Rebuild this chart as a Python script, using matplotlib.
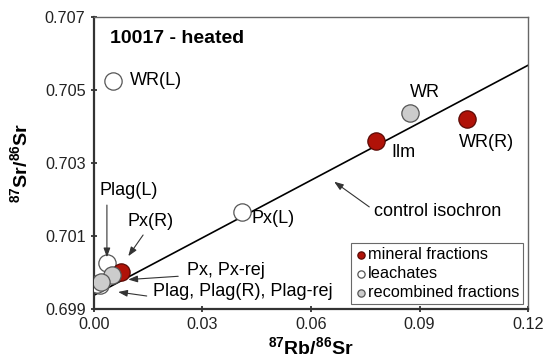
import matplotlib
matplotlib.use("Agg")
import matplotlib.pyplot as plt
import numpy as np

plt.rcParams['font.family'] = ['Liberation Sans', 'DejaVu Sans']
plt.rcParams['mathtext.fontset'] = 'custom'
plt.rcParams['mathtext.rm'] = 'Liberation Sans'
plt.rcParams['mathtext.bf'] = 'Liberation Sans:bold'

# data
mineral_x = [0.078, 0.1031, 0.0074]
mineral_y = [0.7036, 0.70421, 0.70002]
leach_x = [0.0053, 0.0408, 0.0035, 0.0018, 0.0010]
leach_y = [0.70525, 0.70167, 0.70026, 0.69966, 0.69970]
recomb_x = [0.0874, 0.0049, 0.0019]
recomb_y = [0.70437, 0.69993, 0.69975]
iso_x = [0.0, 0.12]
iso_y = [0.69938, 0.70568]
xticks = [0.00, 0.03, 0.06, 0.09, 0.12]
yticks = [0.699, 0.701, 0.703, 0.705, 0.707]

fig = plt.figure(figsize=(5.49, 3.62), dpi=100)
ax = fig.add_axes([0.171, 0.146, 0.791, 0.807])

ax.plot(iso_x, iso_y, color='black', lw=1.2, zorder=2)
S = 155
ax.scatter(leach_x, leach_y, s=S, facecolor='white', edgecolor='#555555', lw=0.9, zorder=3, label='leachates')
ax.scatter(recomb_x, recomb_y, s=S, facecolor='#cccccc', edgecolor='#555555', lw=0.9, zorder=4, label='recombined fractions')
ax.scatter(mineral_x, mineral_y, s=S, facecolor='#b01208', edgecolor='#5a0a05', lw=0.9, zorder=3.5, label='mineral fractions')

ax.set_xlim(0, 0.12)
ax.set_ylim(0.699, 0.707)
ax.set_xticks(xticks)
ax.set_xticklabels(['%.2f' % v for v in xticks])
ax.set_yticks(yticks)
ax.set_yticklabels(['%.3f' % v for v in yticks])
ax.tick_params(direction='inout', length=5, width=1.2, labelsize=11.7, colors='#222222')

for s in ['left', 'bottom']:
    ax.spines[s].set_linewidth(1.6)
    ax.spines[s].set_color('#333333')
for s in ['top', 'right']:
    ax.spines[s].set_linewidth(1.0)
    ax.spines[s].set_color('#666666')

ax.set_xlabel(r'$\mathbf{^{87}Rb/^{86}Sr}$', fontsize=14, labelpad=3)
ax.set_ylabel(r'$\mathbf{^{87}Sr/^{86}Sr}$', fontsize=14)
ax.yaxis.set_label_coords(-0.145, 0.5)

ax.text(0.0044, 0.7064, '10017 - heated', fontsize=14, fontweight='bold', va='center', ha='left')

fs = 13
ax.text(0.0100, 0.70525, 'WR(L)', fontsize=fs, va='center')
ax.text(0.0915, 0.70492, 'WR', fontsize=fs, va='center', ha='center')
ax.text(0.0822, 0.70330, 'Ilm', fontsize=fs, va='center')
ax.text(0.1010, 0.70355, 'WR(R)', fontsize=fs, va='center')
ax.text(0.0435, 0.70149, 'Px(L)', fontsize=fs, va='center')
ax.text(0.0016, 0.70226, 'Plag(L)', fontsize=fs, va='center')
ax.text(0.0093, 0.70140, 'Px(R)', fontsize=fs, va='center')
ax.text(0.0258, 0.70007, 'Px, Px-rej', fontsize=fs, va='center')
ax.text(0.0162, 0.69947, 'Plag, Plag(R), Plag-rej', fontsize=fs, va='center')
ax.text(0.0951, 0.70167, 'control isochron', fontsize=fs, va='center', ha='center')

akw = dict(arrowstyle='-|>,head_length=0.55,head_width=0.2', color='#333333', lw=0.8,
           shrinkA=0, shrinkB=0)
ax.annotate('', xy=(0.0036, 0.70042), xytext=(0.0036, 0.70185), arrowprops=akw)
ax.annotate('', xy=(0.0095, 0.70045), xytext=(0.0136, 0.70103), arrowprops=akw)
ax.annotate('', xy=(0.0095, 0.69981), xytext=(0.0233, 0.69990), arrowprops=akw)
ax.annotate('', xy=(0.0067, 0.69947), xytext=(0.0146, 0.69936), arrowprops=akw)
ax.annotate('', xy=(0.0664, 0.70249), xytext=(0.0761, 0.70180), arrowprops=akw)

leg = ax.legend(handles=[ax.collections[2], ax.collections[0], ax.collections[1]],
                loc='lower right', fontsize=11.7, frameon=True, fancybox=False,
                markerscale=0.42, handletextpad=0.0, borderpad=0.25, labelspacing=0.25,
                handlelength=0.8, borderaxespad=0.3)
leg.get_frame().set_edgecolor('#444444')
leg.get_frame().set_linewidth(0.8)

fig.savefig('out.png', dpi=100)
